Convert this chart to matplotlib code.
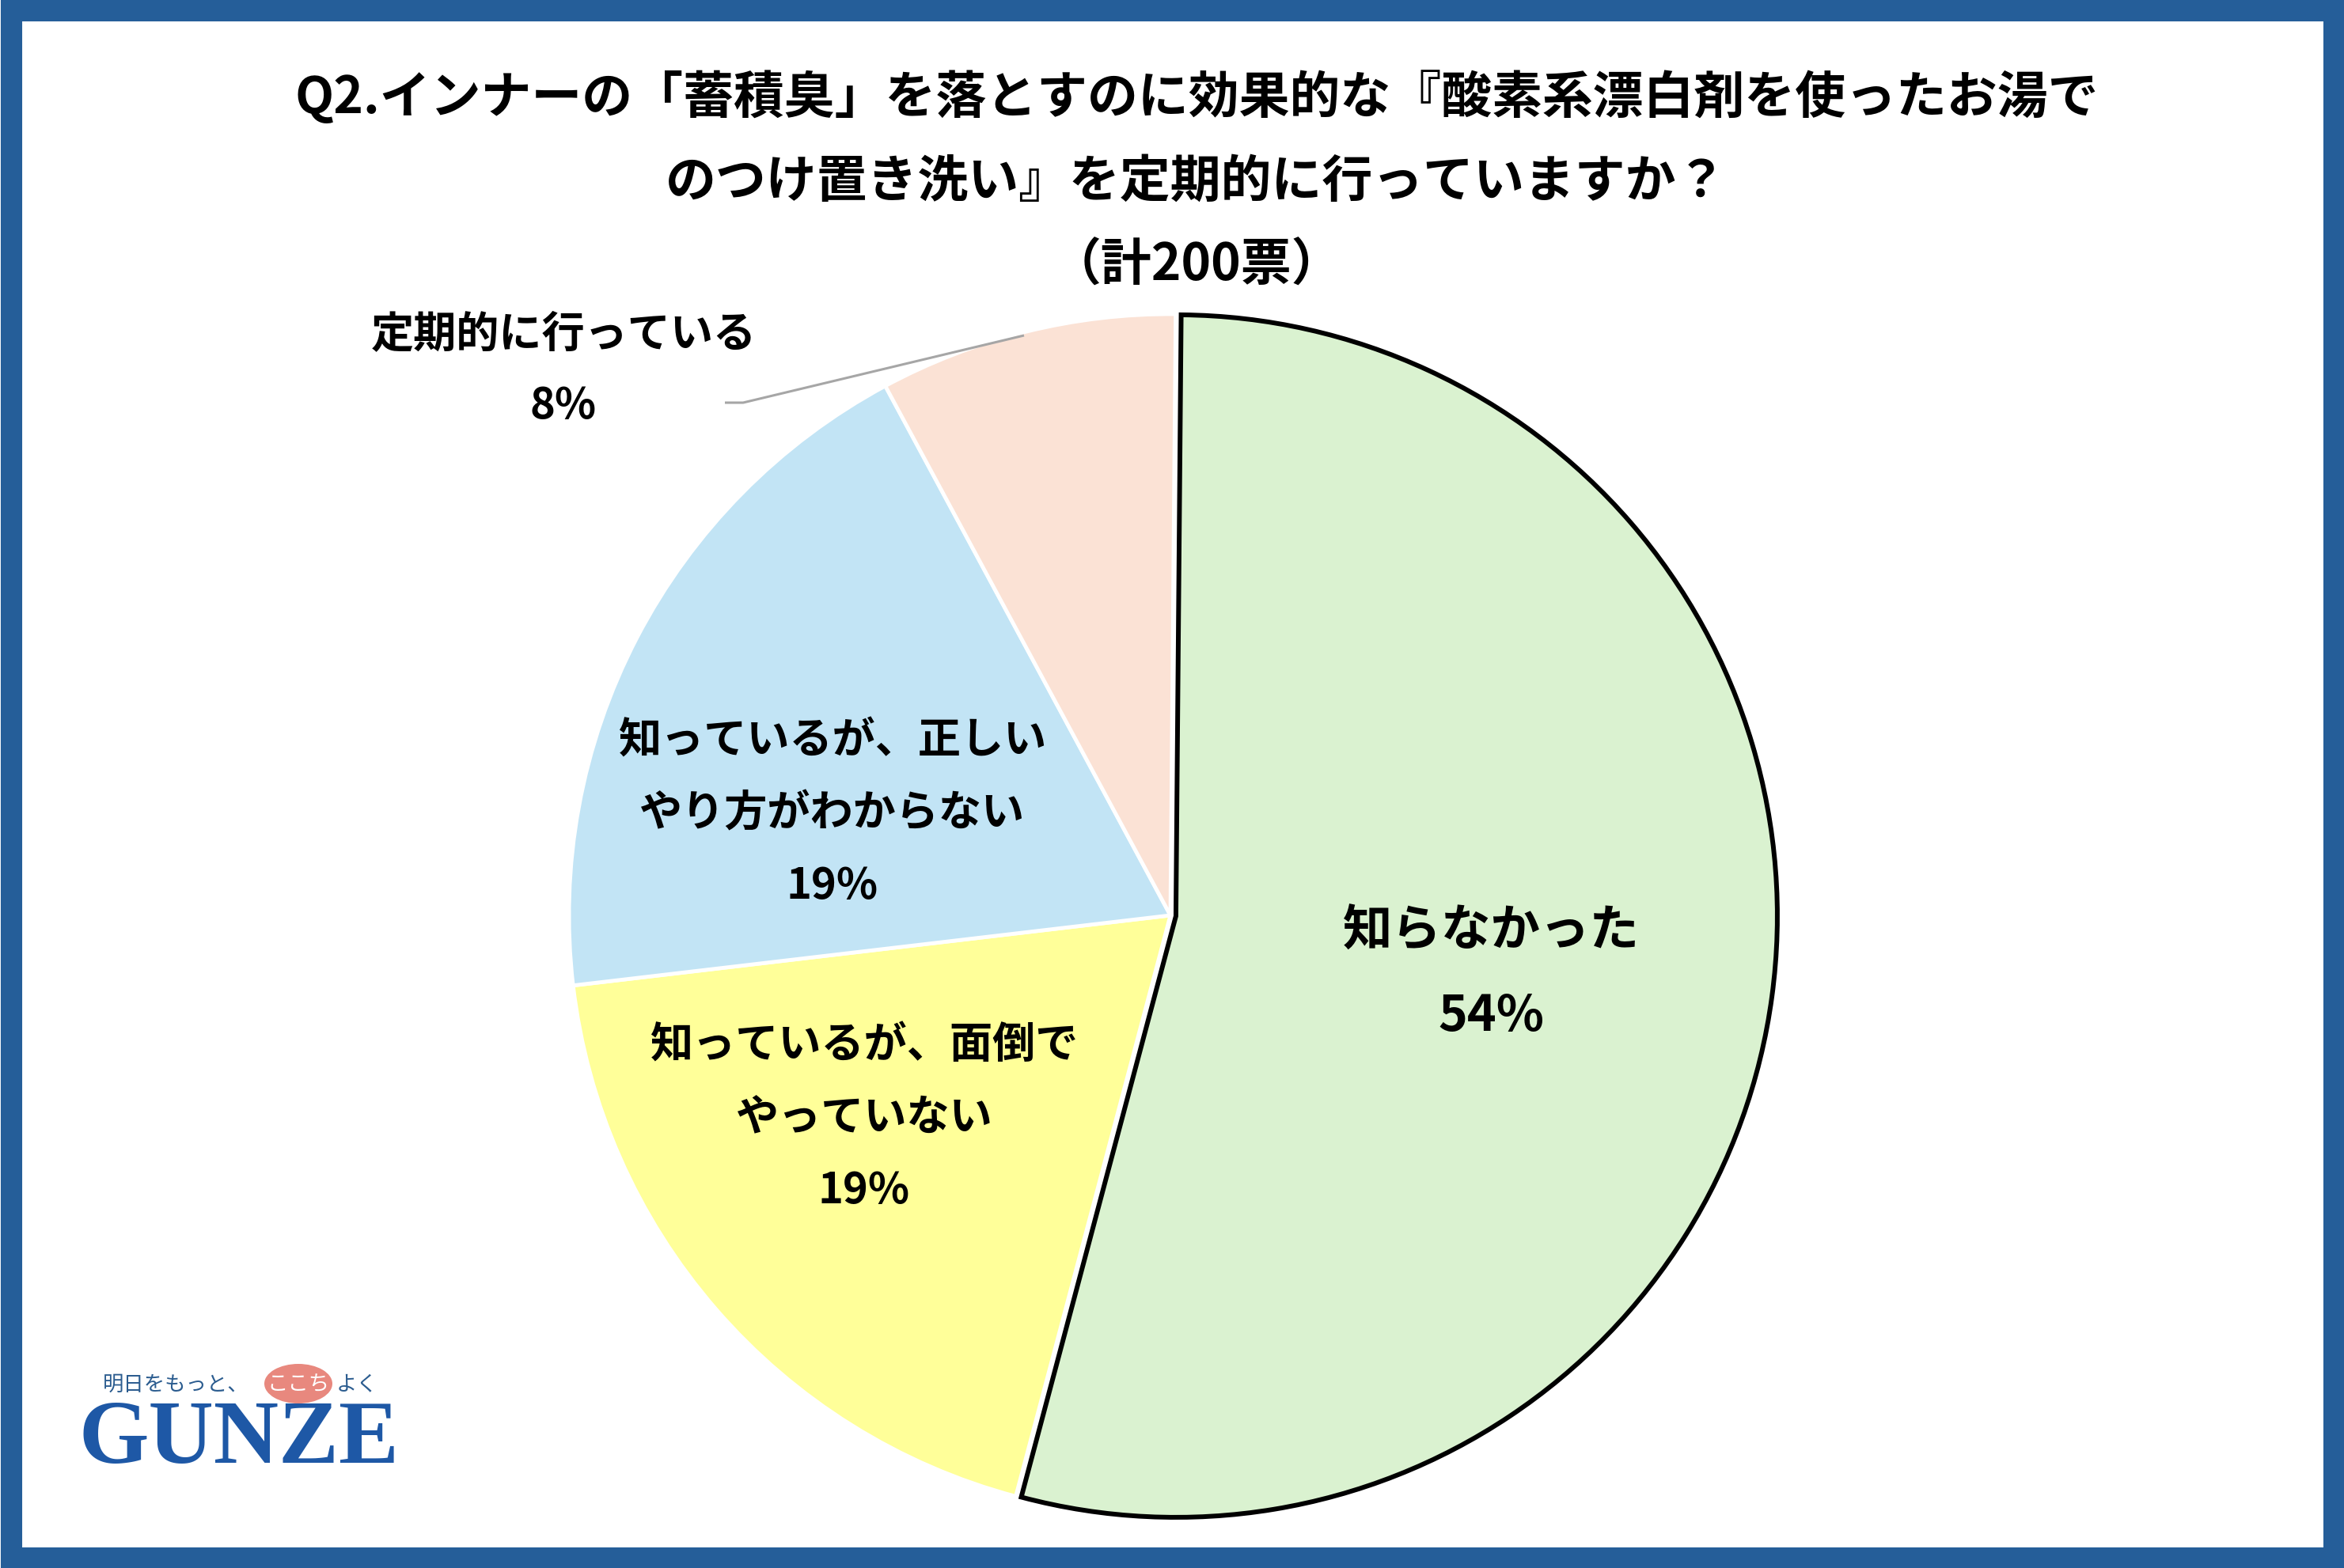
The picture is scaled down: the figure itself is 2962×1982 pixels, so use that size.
import matplotlib.pyplot as plt
from matplotlib.patches import Rectangle, Ellipse

plt.rcParams['font.family'] = ['Noto Sans CJK JP', 'DejaVu Sans']

# data
categories = ["知らなかった",
              "知っているが、面倒で\nやっていない",
              "知っているが、正しい\nやり方がわからない",
              "定期的に行っている"]
shares = [54, 19, 19, 8]
colors = ["#DAF2D0", "#FFFF99", "#C2E4F5", "#FBE2D5"]
title_lines = ["Q2.インナーの「蓄積臭」を落とすのに効果的な『酸素系漂白剤を使ったお湯で",
               "のつけ置き洗い』を定期的に行っていますか？",
               "（計200票）"]

W, H = 2962, 1983
fig = plt.figure(figsize=(W / 100, H / 100), dpi=100)
ax = fig.add_axes([0, 0, 1, 1])

# pie (pixel coords, y up)
cx, cy, r = 1479, H - 1158, 760
wedges, _ = ax.pie(shares, startangle=89.5, counterclock=False, colors=colors,
                   center=(cx, cy), radius=r, explode=[7, 0, 0, 0],
                   wedgeprops=dict(edgecolor='white', linewidth=3.5),
                   frame=True)
ax.set_xlim(0, W)
ax.set_ylim(0, H)
ax.set_aspect('equal')
ax.axis('off')
wedges[0].set_edgecolor('black')
wedges[0].set_linewidth(4.3)
wedges[0].set_zorder(3)

# blue frame
ax.add_patch(Rectangle((13.5, 13.5), W - 27, H - 27, facecolor='white',
                       edgecolor='#255E99', linewidth=19.5, zorder=0))

# labels: (x, y of first line, fontsize)
label_pos = [(1884, 1177, 45), (1092, 1322, 39), (1052, 937, 39), (712, 423, 39)]
line_gap = [108, 92, 92, 91]
for i, (cat, val) in enumerate(zip(categories, shares)):
    x, y0, fs = label_pos[i]
    lines = cat.split("\n") + [f"{val}%"]
    for k, s in enumerate(lines):
        ax.text(x, H - (y0 + k * line_gap[i]), s, ha='center', va='center',
                fontsize=fs, fontweight='bold', color='black', zorder=5)

# leader line for the small slice
ax.plot([916, 939, 1294], [H - 510, H - 510, H - 425], color='#A6A6A6',
        linewidth=2.2, zorder=4, solid_capstyle='butt')

# title
title_y = [123, 230, 336]
for s, y in zip(title_lines, title_y):
    ax.text(1512, H - y, s, ha='center', va='center', fontsize=46,
            fontweight='bold', color='black')

# logo
ax.add_patch(Ellipse((377, H - 1750), 86, 50, facecolor='#E8887E',
                     edgecolor='none', zorder=2))
ax.text(130, H - 1750, "明日をもっと、", ha='left', va='center', fontsize=19,
        color='#2B5C8F', zorder=3)
ax.text(377, H - 1750, "ここち", ha='center', va='center', fontsize=19,
        color='white', zorder=3)
ax.text(425, H - 1750, "よく", ha='left', va='center', fontsize=19,
        color='#2B5C8F', zorder=3)
ax.text(302, H - 1821, "GUNZE", ha='center', va='center', fontsize=82,
        fontweight='bold', family='Liberation Serif', color='#1E58A6', zorder=3)

fig.savefig('out.png', dpi=100)
